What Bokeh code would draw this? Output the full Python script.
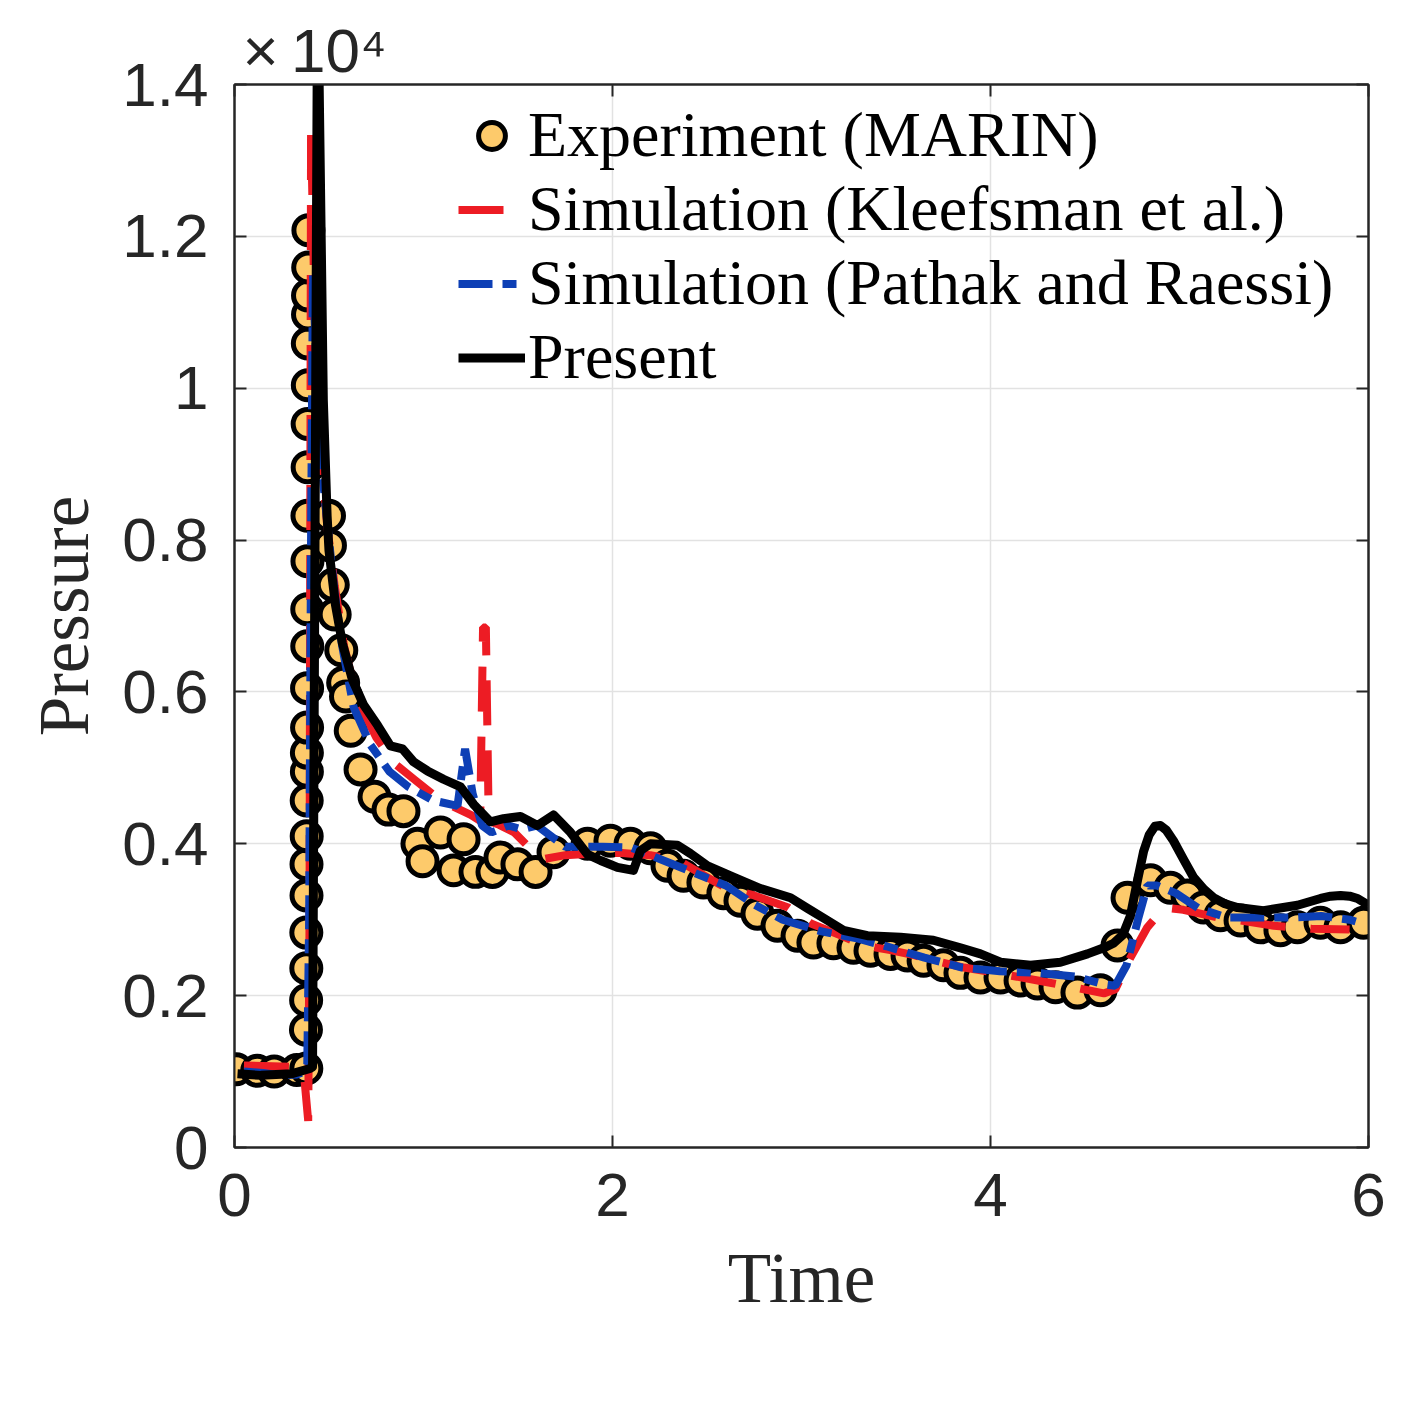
from bokeh.plotting import figure
from bokeh.models import Range1d, LinearAxis, FixedTicker, Legend, LegendItem
from bokeh.embed import file_html
from bokeh.resources import INLINE

# ---------------- data (pressure in Pa, time in s) ----------------
exp_t = [0.01, 0.12, 0.21, 0.33, 0.38,
         0.378, 0.379, 0.380, 0.380, 0.381, 0.381, 0.382, 0.382, 0.383, 0.383, 0.384, 0.384,
         0.385, 0.385, 0.386, 0.386, 0.387, 0.387, 0.388, 0.388, 0.389, 0.389, 0.390, 0.391,
         0.50, 0.505, 0.52, 0.53, 0.565, 0.575, 0.59, 0.615, 0.667, 0.741, 0.815, 0.894,
         0.968, 0.995, 1.09, 1.159, 1.212, 1.275, 1.365, 1.407, 1.497, 1.593, 1.688, 1.868,
         1.989, 2.095, 2.201, 2.291, 2.376, 2.481, 2.587, 2.677, 2.767, 2.873, 2.979, 3.063,
         3.169, 3.275, 3.365, 3.471, 3.561, 3.646, 3.751, 3.841, 3.947, 4.053, 4.159, 4.249,
         4.344, 4.46, 4.582, 4.672, 4.725, 4.847, 4.952, 5.042, 5.127, 5.217, 5.323, 5.429,
         5.534, 5.624, 5.746, 5.852, 5.974]
exp_p = [1030, 1010, 1000, 1020, 1040,
         1550, 1940, 2360, 2830, 3320, 3730, 4100, 4570, 4950, 5200, 5530, 6050,
         6600, 7090, 7720, 8320, 8960, 9530, 10040, 10590, 10970, 11220, 11590, 12080,
         8320, 7930, 7410, 7020, 6550, 6120, 5940, 5490, 4980, 4620, 4450, 4430,
         4000, 3770, 4150, 3650, 4060, 3630, 3630, 3820, 3730, 3630, 3890, 4000,
         4040, 4000, 3940, 3710, 3580, 3490, 3350, 3250, 3080, 2920, 2790, 2700,
         2690, 2630, 2590, 2550, 2530, 2460, 2400, 2300, 2240, 2240, 2200, 2160,
         2110, 2040, 2070, 2660, 3290, 3520, 3420, 3320, 3160, 3060, 2990, 2900,
         2860, 2900, 2960, 2900, 2960]

klee_t = [0.05, 0.2, 0.33, 0.37, 0.39, 0.397, 0.405, 0.42, 0.45, 0.49, 0.53, 0.58, 0.65,
          0.75, 0.85, 0.95, 1.05, 1.15, 1.25, 1.30, 1.315, 1.33, 1.345, 1.40, 1.48, 1.56,
          1.64, 1.75, 1.9, 2.05, 2.2, 2.35, 2.5, 2.6, 2.75, 2.93, 3.05, 3.2, 3.33, 3.47,
          3.6, 3.7, 3.86, 4.05, 4.25, 4.46, 4.6, 4.66, 4.74, 4.83, 4.92, 5.02, 5.11, 5.2,
          5.32, 5.5, 5.7, 5.9]
klee_p = [1080, 1070, 1060, 900, 350, 3000, 13400, 11500, 9500, 8200, 7400, 6600, 5900,
          5400, 5050, 4850, 4650, 4500, 4380, 4300, 6850, 6850, 4300, 4250, 4150, 3950,
          3800, 3850, 3870, 3880, 3850, 3780, 3560, 3420, 3320, 3160, 2950, 2800, 2660, 2600,
          2530, 2460, 2370, 2290, 2200, 2100, 2030, 2080, 2500, 2900, 3160, 3130, 3080, 3030,
          2990, 2920, 2880, 2870]

path_t = [0.05, 0.15, 0.25, 0.33, 0.37, 0.385, 0.395, 0.405, 0.415, 0.43, 0.46, 0.5, 0.53,
          0.57, 0.63, 0.72, 0.82, 0.92, 1.05, 1.18, 1.22, 1.26, 1.31, 1.36, 1.45, 1.52, 1.6,
          1.75, 1.95, 2.1, 2.25, 2.4, 2.6, 2.75, 2.9, 3.1, 3.3, 3.45, 3.65, 3.85, 4.05, 4.25,
          4.45, 4.6, 4.66, 4.72, 4.78, 4.83, 4.88, 4.98, 5.1, 5.25, 5.4, 5.6, 5.75, 5.9, 5.97]
path_p = [1000, 980, 950, 960, 1000, 1100, 3000, 8000, 11500, 10500, 9000, 8000, 7300,
          6600, 5800, 5300, 4950, 4750, 4570, 4500, 5250, 4660, 4240, 4150, 4240, 4190, 4240,
          3960, 3960, 3950, 3800, 3650, 3450, 3200, 3000, 2850, 2750, 2650, 2500, 2370, 2320, 2300,
          2250, 2150, 2130, 2400, 3000, 3450, 3450, 3350, 3150, 3030, 3030, 3030, 3050, 3000, 2950]

pres_t = [0.016, 0.14, 0.30, 0.40, 0.413, 0.44, 0.47, 0.49, 0.50, 0.534, 0.571, 0.624, 0.683,
          0.757, 0.825, 0.889, 0.947, 1.021, 1.106, 1.196, 1.265, 1.354, 1.423, 1.513, 1.603,
          1.688, 1.778, 1.868, 1.937, 2.026, 2.111, 2.148, 2.201, 2.344, 2.413, 2.503, 2.640,
          2.783, 2.942, 3.032, 3.138, 3.222, 3.349, 3.524, 3.698, 3.841, 3.947, 4.053, 4.212,
          4.370, 4.513, 4.60, 4.651, 4.70, 4.74, 4.778, 4.81, 4.84, 4.87, 4.899, 4.93, 4.968,
          5.02, 5.074, 5.13, 5.180, 5.24, 5.307, 5.444, 5.624, 5.746, 5.80, 5.852, 5.90, 5.942,
          6.0]
pres_p = [970, 950, 970, 1040, 1060, 15500, 9840, 8320, 7860, 7150, 6640, 6160, 5830,
          5560, 5290, 5250, 5080, 4960, 4850, 4750, 4520, 4290, 4330, 4360, 4240,
          4380, 4150, 3860, 3780, 3690, 3650, 3910, 4000, 3980, 3870, 3710, 3560,
          3410, 3290, 3150, 2990, 2860, 2790, 2770, 2730, 2630, 2550, 2440, 2400,
          2440, 2550, 2630, 2690, 2800, 3050, 3520, 3900, 4120, 4230, 4240, 4180, 4040,
          3800, 3560, 3400, 3290, 3210, 3160, 3120, 3190, 3280, 3310, 3320, 3310, 3280,
          3190]

x_ticks = [0, 2, 4, 6]
y_ticks = [0, 2000, 4000, 6000, 8000, 10000, 12000, 14000]
y_tick_labels = ["0", "0.2", "0.4", "0.6", "0.8", "1", "1.2", "1.4"]

labels = ["Experiment (MARIN)", "Simulation (Kleefsman et al.)",
          "Simulation (Pathak and Raessi)", "Present"]
scale_text = "\u00d7\u200910\u2074"

# ---------------- figure ----------------
AX = "#262626"
p = figure(frame_width=1134, frame_height=1063,
           x_range=Range1d(0, 6), y_range=Range1d(0, 14000),
           output_backend="svg", toolbar_location=None,
           min_border_left=234, min_border_right=49, min_border_top=84, min_border_bottom=270,
           x_axis_label="Time", y_axis_label="Pressure", title=scale_text)
p.background_fill_color = "white"
p.border_fill_color = "white"
p.outline_line_color = AX
p.outline_line_width = 2

p.title.align = "left"
p.title.offset = 8
p.title.standoff = 0
p.title.text_font = "Liberation Sans"
p.title.text_font_size = "62px"
p.title.text_font_style = "normal"
p.title.text_color = AX

p.xaxis.ticker = FixedTicker(ticks=x_ticks)
p.yaxis.ticker = FixedTicker(ticks=y_ticks)
p.yaxis.major_label_overrides = {t: l for t, l in zip(y_ticks, y_tick_labels)}
for ax in (p.xaxis[0], p.yaxis[0]):
    ax.axis_line_color = AX
    ax.axis_line_width = 2
    ax.major_tick_in = 12
    ax.major_tick_out = 0
    ax.major_tick_line_color = AX
    ax.major_tick_line_width = 2
    ax.minor_tick_line_color = None
    ax.major_label_text_font = "Liberation Sans"
    ax.major_label_text_font_size = "62px"
    ax.major_label_text_color = AX
    ax.axis_label_text_font = "Liberation Serif"
    ax.axis_label_text_font_size = "71px"
    ax.axis_label_text_font_style = "normal"
    ax.axis_label_text_color = AX
p.xaxis.major_label_standoff = 26
p.yaxis.major_label_standoff = 26
p.xaxis.axis_label_standoff = 20
p.yaxis.axis_label_standoff = 16

# box axes (right / top) with inward ticks only, no labels
right = LinearAxis(ticker=FixedTicker(ticks=y_ticks),
                   major_label_overrides={t: "" for t in y_ticks},
                   major_label_text_font_size="10px", major_label_standoff=0,
                   major_tick_in=12, major_tick_out=0, major_tick_line_color=AX,
                   major_tick_line_width=2, minor_tick_line_color=None,
                   axis_line_color=AX, axis_line_width=2)
top = LinearAxis(ticker=FixedTicker(ticks=x_ticks),
                 major_label_overrides={t: "" for t in x_ticks},
                 major_label_text_font_size="10px", major_label_standoff=0,
                 major_tick_in=12, major_tick_out=0, major_tick_line_color=AX,
                 major_tick_line_width=2, minor_tick_line_color=None,
                 axis_line_color=AX, axis_line_width=2)
p.add_layout(right, "right")
p.add_layout(top, "above")

p.xgrid.ticker = FixedTicker(ticks=x_ticks)
p.ygrid.ticker = FixedTicker(ticks=y_ticks)
p.grid.grid_line_color = "#E2E2E2"
p.grid.grid_line_width = 1.5

# ---------------- glyphs ----------------
r_exp = p.scatter(exp_t, exp_p, size=29, marker="circle", fill_color="#FDCA6B",
                  line_color="black", line_width=5)
r_klee = p.line(klee_t, klee_p, line_color="#ED1C24", line_width=8, line_dash="45 25")
r_path = p.line(path_t, path_p, line_color="#0D3FB5", line_width=8, line_dash="34 10 14 10")
r_pres = p.line(pres_t, pres_p, line_color="black", line_width=9, line_join="round")

legend = Legend(items=[LegendItem(label=labels[0], renderers=[r_exp]),
                       LegendItem(label=labels[1], renderers=[r_klee]),
                       LegendItem(label=labels[2], renderers=[r_path]),
                       LegendItem(label=labels[3], renderers=[r_pres])],
                location=(224, 753))
legend.background_fill_alpha = 0
legend.border_line_color = None
legend.padding = 0
legend.margin = 0
legend.spacing = 0
legend.glyph_width = 67
legend.glyph_height = 71
legend.label_height = 71
legend.label_standoff = 3
legend.label_text_font = "Liberation Serif"
legend.label_text_font_size = "64px"
legend.label_text_line_height = 1.0
legend.label_text_color = "black"
legend.label_text_baseline = "middle"
p.add_layout(legend)

open("out.html", "w").write(file_html(p, INLINE))
